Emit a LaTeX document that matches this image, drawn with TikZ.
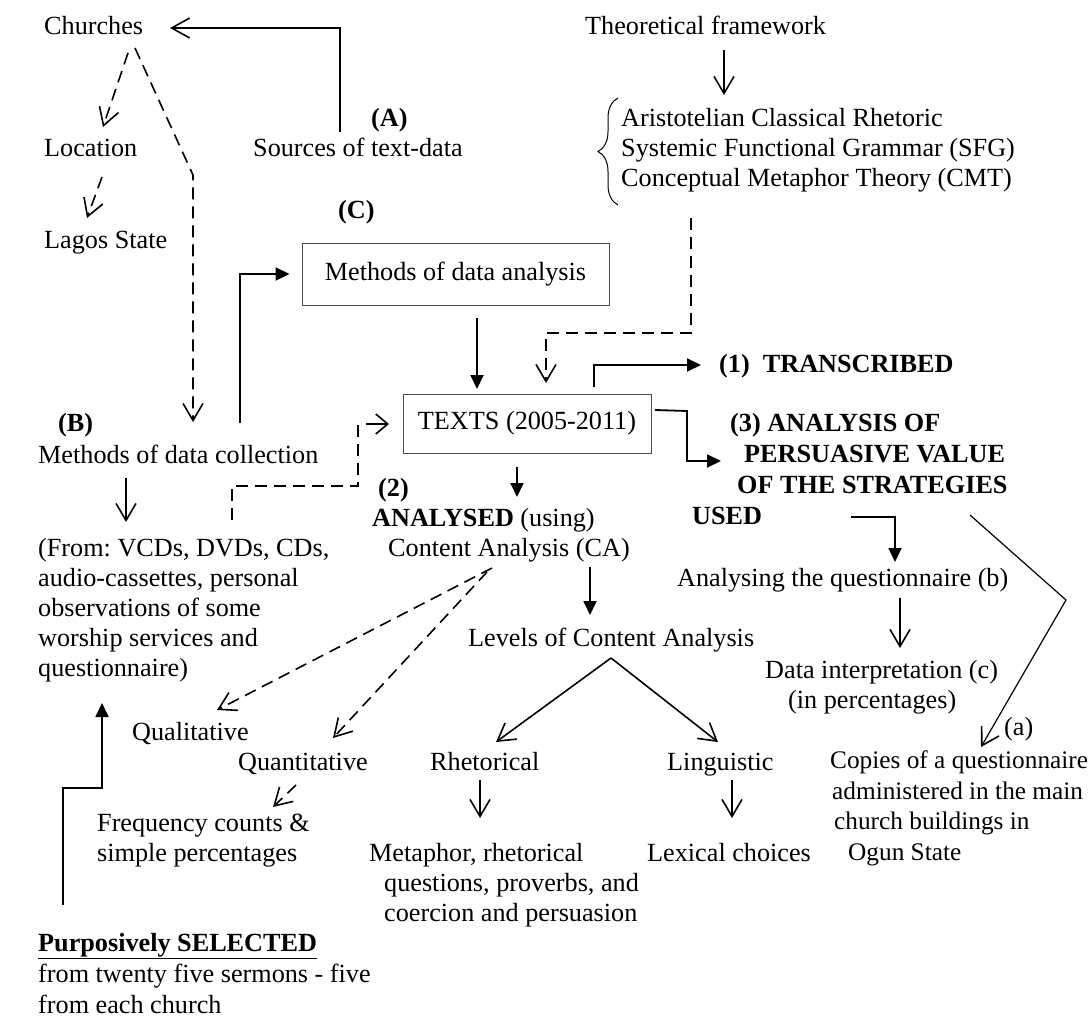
\documentclass[tikz,border=0pt]{standalone}
\usepackage{fontspec}
\setmainfont{Liberation Serif}
\usetikzlibrary{arrows.meta,decorations.pathreplacing}
\frenchspacing

\begin{document}
\begin{tikzpicture}[x=1pt,y=-1pt,
  txt/.style={anchor=base west,inner sep=0pt,align=left,font=\fontsize{26.2}{30}\selectfont},
  bld/.style={txt,font=\fontsize{26.2}{30}\selectfont\bfseries},
  boxed/.style={draw=black!70,line width=0.9pt,inner sep=0pt,font=\fontsize{26.2}{30}\selectfont},
  plain/.style={line width=1.8pt},
  solid arrow/.style={plain,-{Triangle[length=14pt,width=13pt]}},
  open arrow/.style={line width=1.6pt,-{Straight Barb[length=17pt,width=20pt,line width=1.6pt]}},
  dash arrow/.style={open arrow,dash pattern=on 12pt off 7pt},
]
\fill[white] (0,0) rectangle (1091,1017);
\useasboundingbox (0,0) rectangle (1091,1017);

% ---------- text blocks (multi-line blocks sit on the baseline of their last line) ----------
\node[txt] (churches) at (44,34) {Churches};
\node[txt] (location) at (44,156) {Location};
\node[txt] (lagos) at (44,248) {Lagos State};
\node[bld] (labA) at (371,126) {(A)};
\node[txt] (sources) at (253,156) {Sources of text-data};
\node[txt] (theory) at (585,34) {Theoretical framework};
\node[txt] (theories) at (621,186) {Aristotelian Classical Rhetoric\\Systemic Functional Grammar (SFG)\\Conceptual Metaphor Theory (CMT)};
\node[bld] (labC) at (338,218) {(C)};
\node[boxed,minimum width=307pt,minimum height=62pt] (analysis) at (455.5,274) {Methods of data analysis};
\node[bld] (labB) at (58,431) {(B)};
\node[txt] (collection) at (38,463) {Methods of data collection};
\node[txt] (from) at (38,676) {(From: VCDs, DVDs, CDs,\\audio-cassettes, personal\\observations of some\\worship services and\\questionnaire)};
\node[boxed,minimum width=248pt,minimum height=59pt] (texts) at (527,423.5) {TEXTS (2005-2011)};
\node[bld] (transcribed) at (719,372) {(1)\ \ TRANSCRIBED};
\node[bld,font=\fontsize{26.2}{31}\selectfont\bfseries] (persuasive) at (692,524)
  {\hspace*{38pt}(3) ANALYSIS OF\\\hspace*{52pt}PERSUASIVE VALUE\\\hspace*{45pt}OF THE STRATEGIES\\USED};
\node[bld] (lab2) at (378,496) {(2)};
\node[txt] (analysed) at (372,556) {\textbf{ANALYSED} (using)\\\hspace*{16pt}Content Analysis (CA)};
\node[txt] (questionnaire) at (677,586) {Analysing the questionnaire (b)};
\node[txt] (interp) at (765,708) {Data interpretation (c)\\\hspace*{23pt}(in percentages)};
\node[txt] (labsmall) at (1004,735) {(a)};
\node[txt,font=\fontsize{25.3}{30.5}\selectfont] (copies) at (830,860) {Copies of a questionnaire\\\hspace*{2pt}administered in the main\\\hspace*{4pt}church buildings in\\\hspace*{18pt}Ogun State};
\node[txt] (levels) at (468,646) {Levels of Content Analysis};
\node[txt] (qual) at (132,740) {Qualitative};
\node[txt] (quant) at (238,770) {Quantitative};
\node[txt] (rhet) at (430,770) {Rhetorical};
\node[txt] (ling) at (667,770) {Linguistic};
\node[txt] (freq) at (97,861) {Frequency counts \&\\simple percentages};
\node[txt] (meta) at (369,921) {Metaphor, rhetorical\\\hspace*{15pt}questions, proverbs, and\\\hspace*{15pt}coercion and persuasion};
\node[txt] (lexical) at (647,861) {Lexical choices};
\node[txt,font=\fontsize{26.2}{31}\selectfont] (purpose) at (38,1013) {\underline{\textbf{Purposively SELECTED}}\\from twenty five sermons - five\\from each church};

% brace grouping the three theories
\draw[line width=1pt,decorate,decoration={brace,amplitude=20pt}] (618,205) -- (618,98);

% ---------- connector end points ----------
\coordinate (srcOut) at (340,132);   \coordinate (chIn) at (170,28);
\coordinate (chOutA) at (128,53);    \coordinate (locIn) at (103,127);
\coordinate (locOut) at (102,177);   \coordinate (lagIn) at (87,218);
\coordinate (chOutB) at (135,48);    \coordinate (bend) at (193,175);
\coordinate (colIn) at (193,422);
\coordinate (colOutA) at (240,423);
\coordinate (anOut) at (477,318);    \coordinate (txIn) at (477,389);
\coordinate (colOutB) at (126,478);  \coordinate (fromIn) at (126,522);
\coordinate (fromOut) at (232,520);  \coordinate (dashEnd) at (358,424);
\coordinate (shaft) at (366,424);    \coordinate (txInB) at (389,424);
\coordinate (thOut) at (724,50);     \coordinate (thIn) at (724,95);
\coordinate (thsOut) at (691,218);   \coordinate (txInC) at (546,383);
\coordinate (txOutA) at (594,387);   \coordinate (trIn) at (701,365);
\coordinate (txOutB) at (655,410);   \coordinate (peIn) at (721,461);
\coordinate (txOutC) at (517,467);   \coordinate (anlIn) at (517,497);
\coordinate (peOutA) at (851,517);   \coordinate (quIn) at (895,562);
\coordinate (peOutB) at (970,515);   \coordinate (kink) at (1066,600);
\coordinate (cpIn) at (981,747);
\coordinate (quOut) at (900,598);    \coordinate (inIn) at (900,648);
\coordinate (caOutA) at (590,567);   \coordinate (lvIn) at (590,615);
\coordinate (caOutB) at (492,568);   \coordinate (qlIn) at (217,710);
\coordinate (caOutC) at (487,572);   \coordinate (qnIn) at (333,738);
\coordinate (qnOut) at (296,785);    \coordinate (frIn) at (273,807);
\coordinate (lvOut) at (611,658);
\coordinate (rhIn) at (496,742);     \coordinate (liIn) at (718,742);
\coordinate (rhOut) at (480,780);    \coordinate (meIn) at (480,818);
\coordinate (liOut) at (732,780);    \coordinate (lxIn) at (732,818);
\coordinate (puOut) at (63,905);     \coordinate (puStep) at (102,788);
\coordinate (frmIn) at (102,703);

% ---------- connectors ----------
\draw[open arrow,-{Straight Barb[length=18pt,width=20pt,line width=1.6pt]}] (srcOut) |- (chIn);
\draw[dash arrow] (chOutA) -- (locIn);
\draw[dash arrow] (locOut) -- (lagIn);
\draw[dash arrow] (chOutB) -- (bend) -- (colIn);
\draw[solid arrow] (colOutA) |- ([xshift=-12pt]analysis.west);
\draw[solid arrow] (anOut) -- (txIn);
\draw[open arrow] (colOutB) -- (fromIn);
\draw[plain,dash pattern=on 12pt off 7pt] (fromOut) |- (358,486) -- (dashEnd);
\draw[open arrow,-{Straight Barb[length=12pt,width=20pt,line width=1.6pt]}] (shaft) -- (txInB);
\draw[open arrow] (thOut) -- (thIn);
\draw[dash arrow] (thsOut) |- (546,333) -- (txInC);
\draw[solid arrow] (txOutA) |- (trIn);
\draw[solid arrow] (txOutB) -- (687,411) -- (687,461) -- (peIn);
\draw[solid arrow] (txOutC) -- (anlIn);
\draw[solid arrow] (peOutA) -| (quIn);
\draw[open arrow,line width=1.2pt] (peOutB) -- (kink) -- (cpIn);
\draw[open arrow] (quOut) -- (inIn);
\draw[solid arrow] (caOutA) -- (lvIn);
\draw[dash arrow] (caOutB) -- (qlIn);
\draw[dash arrow] (caOutC) -- (qnIn);
\draw[dash arrow] (qnOut) -- (frIn);
\draw[open arrow] (lvOut) -- (rhIn);
\draw[open arrow] (lvOut) -- (liIn);
\draw[open arrow] (rhOut) -- (meIn);
\draw[open arrow] (liOut) -- (lxIn);
\draw[solid arrow] (puOut) |- (puStep) -- (frmIn);
\end{tikzpicture}
\end{document}
